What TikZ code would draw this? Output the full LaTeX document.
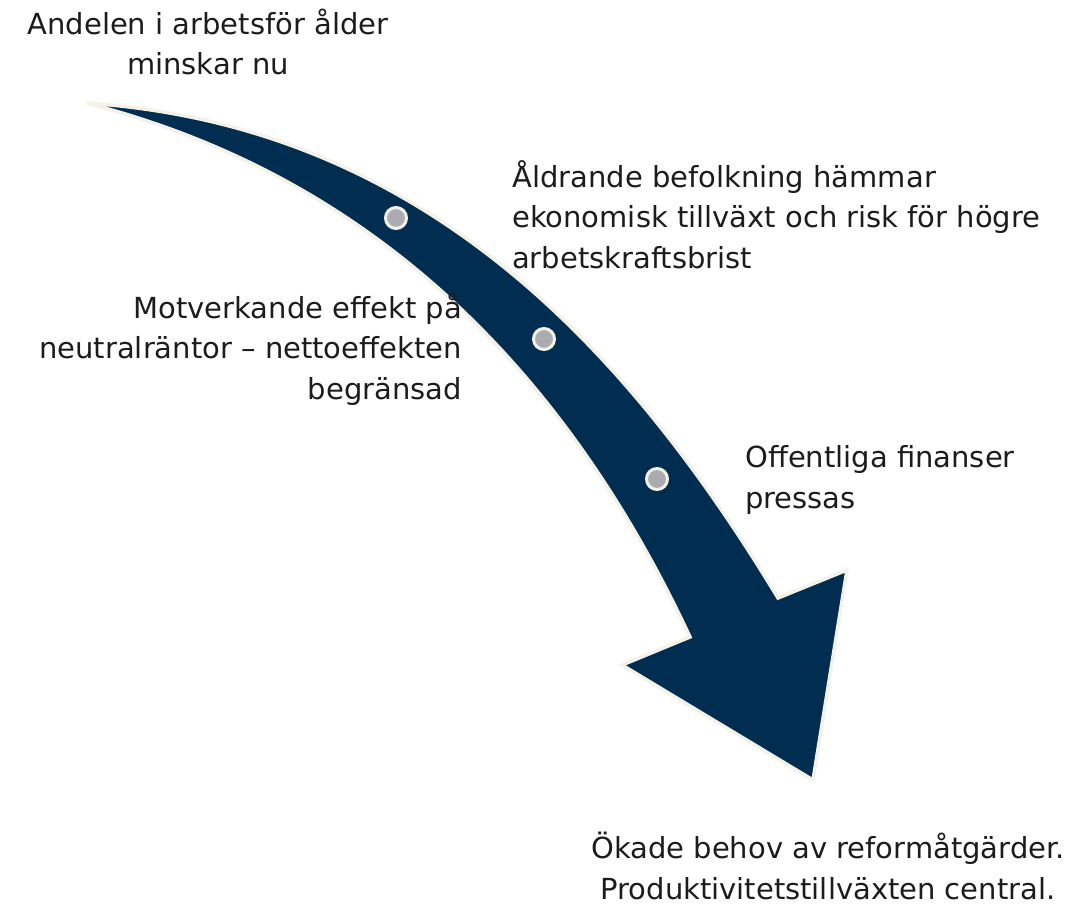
\documentclass[tikz,border=0pt]{standalone}
\usepackage{fontspec}
\setmainfont{DejaVu Sans}
\usepackage{tikz}
\definecolor{navyarrow}{RGB}{0, 45, 80}
\definecolor{creamedge}{RGB}{244, 242, 232}
\definecolor{dotgray}{RGB}{170, 172, 178}
\definecolor{textdark}{RGB}{28, 28, 28}

\tikzset{
  steplabel/.style={font=\fontsize{29}{40.5}\selectfont, text=textdark, inner sep=0pt},
  stepdot/.style={circle, fill=dotgray, draw=creamedge, line width=3pt,
                  minimum size=21pt, inner sep=0pt}
}

\begin{document}
\begin{tikzpicture}[x=1pt, y=-1pt]
            \useasboundingbox (0,0) rectangle (1083,912);
            % Curved arrow
            \filldraw[fill=navyarrow, draw=creamedge, line width=3.5pt, line join=miter]
                (86,103) .. controls (420,125) and (625,345) .. (778,598)
                -- (847,570) -- (813,780) -- (622,665) -- (690,637)
                .. controls (570,380) and (380,178) .. cycle;
            % Dots on the arrow
            \node[stepdot] (dotA) at (396,218) {};
            \node[stepdot] (dotB) at (544,339) {};
            \node[stepdot] (dotC) at (657,479) {};
            % Labels (base = last line)
            \node[steplabel, anchor=base, align=center]      (andel)  at (208,75)  {Andelen i arbetsför ålder\\minskar nu};
            \node[steplabel, anchor=base west, align=left]   (aldr)   at (512,268) {Åldrande befolkning hämmar\\ekonomisk tillväxt och risk för högre\\arbetskraftsbrist};
            \node[steplabel, anchor=base east, align=right]  (motv)   at (462,399) {Motverkande effekt på\\neutralräntor – nettoeffekten\\begränsad};
            \node[steplabel, anchor=base west, align=left]   (offent) at (745,508) {Offentliga finanser\\pressas};
            \node[steplabel, anchor=base, align=center]      (okade)  at (828,899) {Ökade behov av reformåtgärder.\\Produktivitetstillväxten central.};
\end{tikzpicture}
\end{document}
